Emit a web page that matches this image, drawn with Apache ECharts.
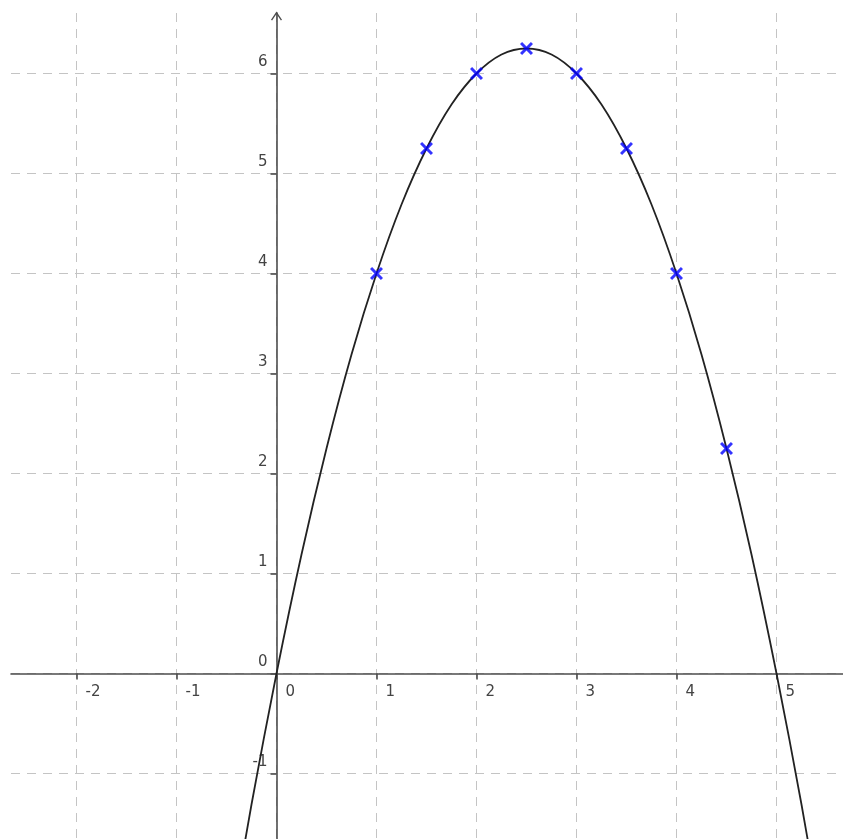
<!DOCTYPE html>
<html>
<head>
<meta charset="utf-8">
<script src="https://cdn.jsdelivr.net/npm/echarts@6/dist/echarts.min.js"></script>
<style>
  html, body { margin: 0; padding: 0; background: #fff; }
  #chart { width: 843px; height: 839px; }
</style>
</head>
<body>
<div id="chart"></div>
<script>
// curve (parabola through the origin and x = 5)
const curveX = [-0.5, -0.25, 0, 0.25, 0.5, 0.75, 1, 1.25, 1.5, 1.75, 2, 2.25, 2.5,
  2.75, 3, 3.25, 3.5, 3.75, 4, 4.25, 4.5, 4.75, 5, 5.25, 5.5]
const curveY = [-2.75, -1.31, 0, 1.19, 2.25, 3.19, 4, 4.69, 5.25, 5.69, 6, 6.19, 6.25,
  6.19, 6, 5.69, 5.25, 4.69, 4, 3.19, 2.25, 1.19, 0, -1.31, -2.75]

// blue crosses
const pointX = [1, 1.5, 2, 2.5, 3, 3.5, 4, 4.5]
const pointY = [4, 5.25, 6, 6.25, 6, 5.25, 4, 2.25]

// ticks / labels
const xTicks = [-2, -1, 0, 1, 2, 3, 4, 5]
const yTicks = [-1, 0, 1, 2, 3, 4, 5, 6]

const xMin = -2.655, xMax = 5.665
const yMin = -1.655, yMax = 6.605
const W = 843, H = 839
const gLeft = 11, gTop = 13

const chart = echarts.init(document.getElementById('chart'))

const crossPath = 'path://M0,1.6 L1.6,0 L5,3.4 L8.4,0 L10,1.6 L6.6,5 L10,8.4 L8.4,10 L5,6.6 L1.6,10 L0,8.4 L3.4,5 Z'
const chevron = 'path://M0,9 L6,0 L12,9 L10.8,9.8 L6,2.6 L1.2,9.8 Z'

// move the axes onto x = 0 / y = 0 (offset from the grid edges)
const plotW = W - gLeft
const plotH = H - gTop
const xAxisOffset = -(0 - yMin) / (yMax - yMin) * plotH
const yAxisOffset = -(0 - xMin) / (xMax - xMin) * plotW

const gridLine = {
  show: true,
  lineStyle: { color: '#c4c4c4', width: 1, type: [9, 7] }
}

chart.setOption({
  animation: false,
  backgroundColor: '#fff',
  grid: {
    left: gLeft,
    right: 0,
    top: gTop,
    bottom: 0,
    containLabel: false,
    outerBoundsMode: 'none'
  },
  xAxis: {
    type: 'value',
    min: xMin,
    max: xMax,
    position: 'bottom',
    offset: xAxisOffset,
    axisLine: {
      onZero: false,
      lineStyle: { color: '#4d4d4d', width: 1.6 }
    },
    axisTick: {
      show: true,
      length: 6,
      customValues: xTicks,
      lineStyle: { color: '#4d4d4d', width: 1.6 }
    },
    axisLabel: {
      customValues: xTicks,
      align: 'left',
      verticalAlign: 'top',
      margin: 11,
      padding: [0, 0, 0, 9],
      color: '#444',
      fontSize: 15,
      fontFamily: 'DejaVu Sans'
    },
    splitLine: gridLine
  },
  yAxis: {
    type: 'value',
    min: yMin,
    max: yMax,
    position: 'left',
    offset: yAxisOffset,
    axisLine: {
      onZero: false,
      symbol: ['none', chevron],
      symbolSize: [12, 9],
      symbolOffset: [0, -3],
      lineStyle: { color: '#4d4d4d', width: 1.6 }
    },
    axisTick: {
      show: true,
      length: 6,
      customValues: yTicks,
      lineStyle: { color: '#4d4d4d', width: 1.6 }
    },
    axisLabel: {
      customValues: yTicks,
      align: 'right',
      verticalAlign: 'bottom',
      margin: 9,
      lineHeight: 15,
      padding: [0, 0, 4, 0],
      color: '#444',
      fontSize: 15,
      fontFamily: 'DejaVu Sans'
    },
    splitLine: gridLine
  },
  series: [
    {
      type: 'line',
      data: curveX.map((x, i) => [x, curveY[i]]),
      smooth: 0.3,
      showSymbol: false,
      lineStyle: { color: '#222', width: 1.8 },
      z: 3
    },
    {
      type: 'scatter',
      data: pointX.map((x, i) => [x, pointY[i]]),
      symbol: crossPath,
      symbolSize: 13,
      itemStyle: { color: '#0000ff' },
      z: 4
    }
  ]
})
</script>
</body>
</html>
